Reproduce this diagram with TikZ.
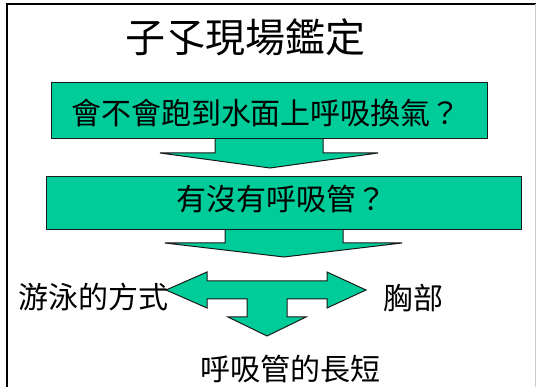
\documentclass[tikz,border=0pt]{standalone}
\usepackage{fontspec}
\newfontfamily\cjk{Noto Sans CJK TC}
\definecolor{teal}{HTML}{00CC99}
\definecolor{edge}{HTML}{1A1A1A}
\tikzset{
  box/.style={draw=edge, line width=1pt, fill=teal, inner sep=0pt, anchor=center},
  blockarrow/.style={draw=edge, line width=1pt, fill=teal, line join=miter},
  lbl/.style={inner sep=0pt, font=\cjk\fontsize{30}{36}\selectfont},
}
\begin{document}
\begin{tikzpicture}[x=1pt, y=-1pt]
\useasboundingbox (0,0) rectangle (536,387);
\fill[white] (0,0) rectangle (536,387);
% frame
\draw[line width=2pt, black] (6.5,388) -- (6.5,4) -- (537,4);
\draw[line width=1pt, black!20] (535.5,4) -- (535.5,388);
% title
\node[inner sep=0pt, font=\cjk\fontsize{40}{46}\selectfont] (title) at (245,37) {子孓現場鑑定};
% arrows
\draw[blockarrow] (215,139) -- (215,153) -- (160,153) -- (270,168) -- (378,153) -- (323,153) -- (323,139);
\draw[blockarrow] (225,230) -- (225,243) -- (165,243) -- (284,257) -- (402,243) -- (343,243) -- (343,230);
% boxes
\node[box, minimum width=436pt, minimum height=56pt] (q1) at (269,111) {};
\node[lbl] (q1t) at (266,113) {會不會跑到水面上呼吸換氣？};
\node[box, minimum width=475pt, minimum height=53pt] (q2) at (283.5,203.5) {};
\node[lbl] (q2t) at (281,199) {有沒有呼吸管？};
% three-way arrow
\draw[blockarrow] (166,290) -- (207,272) -- (207,281) -- (327,281) -- (327,272) -- (366,290)
  -- (327,308) -- (327,299) -- (287,299) -- (287,317) -- (306,317) -- (267,336)
  -- (228,317) -- (247,317) -- (247,299) -- (207,299) -- (207,308) -- cycle;
% labels
\node[lbl] (swim) at (93.5,297) {游泳的方式};
\node[lbl] (chest) at (413,298) {胸部};
\node[lbl] (len) at (290,369) {呼吸管的長短};
\end{tikzpicture}
\end{document}
